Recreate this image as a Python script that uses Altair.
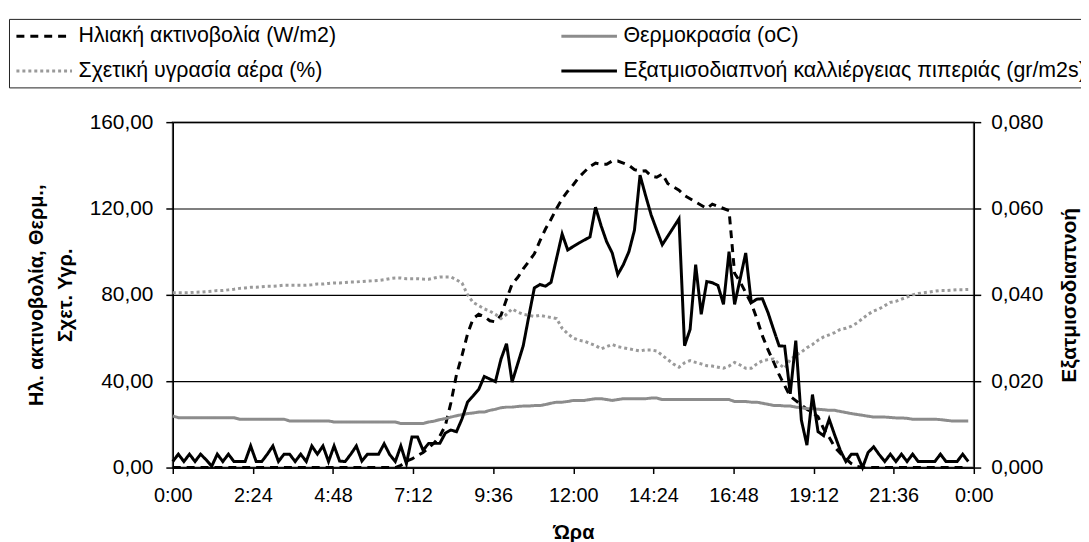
import altair as alt
import pandas as pd

# ---------------- data (10-minute readings, 0:00 .. 23:50) ----------------
minutes = [i * 10 for i in range(144)]

radiation = [
    0, 0, 0, 0, 0, 0,
    0, 0, 0, 0, 0, 0,
    0, 0, 0, 0, 0, 0,
    0, 0, 0, 0, 0, 0,
    0, 0, 0, 0, 0, 0,
    0, 0, 0, 0, 0, 0,
    0, 0, 0, 0, 0, 1,
    3, 4, 5.5, 7, 9, 11.5,
    14.5, 19.5, 30, 43, 52, 62,
    69, 71, 70, 68, 67.5, 70.5,
    78, 85, 88, 92, 95.5, 99,
    105, 110.5, 115, 120, 124.5, 128,
    131, 134.5, 137, 139.5, 141, 140.5,
    140.5, 142, 142, 141, 140, 138,
    137.3, 137.5, 135, 134.5, 136, 131.5,
    130, 128.5, 126, 124.5, 123, 121.5,
    120, 122, 121, 120, 119, 90,
    86, 81, 76, 69, 61, 54.6,
    49, 43, 38, 33, 31, 29,
    27, 25.5, 23.5, 18, 14, 9.5,
    6.6, 4, 1.8, 0.5, 0, 0,
    0, 0, 0, 0, 0, 0,
    0, 0, 0, 0, 0, 0,
    0, 0, 0, 0, 0, 0,
]

temperature = [
    23.9, 23.1, 23.1, 23.1, 23.1, 23.1,
    23.1, 23.1, 23.1, 23.1, 23.1, 23.1,
    22.4, 22.4, 22.4, 22.4, 22.4, 22.4,
    22.4, 22.4, 22.4, 21.6, 21.6, 21.6,
    21.6, 21.6, 21.6, 21.6, 21.6, 21.1,
    21.1, 21.1, 21.1, 21.1, 21.1, 21.1,
    21.1, 21.1, 21.1, 21.1, 21.1, 20.4,
    20.4, 20.4, 20.4, 20.4, 21.1, 21.5,
    22.2, 22.7, 23.4, 24.0, 24.5, 25.0,
    25.3, 25.7, 25.7, 26.5, 27.0, 27.7,
    28.0, 28.0, 28.3, 28.5, 28.5, 28.7,
    28.7, 29.2, 29.8, 30.3, 30.3, 30.6,
    31.1, 31.1, 31.1, 31.5, 31.9, 31.9,
    31.5, 31.1, 31.5, 31.9, 31.9, 31.9,
    31.9, 31.9, 32.2, 32.2, 31.5, 31.5,
    31.5, 31.5, 31.5, 31.5, 31.5, 31.5,
    31.5, 31.5, 31.5, 31.5, 31.5, 30.6,
    30.6, 30.6, 30.3, 30.3, 29.8, 29.3,
    28.8, 28.8, 28.5, 28.5, 28.0, 27.7,
    27.3, 27.3, 27.0, 26.8, 26.5, 26.5,
    26.0, 25.5, 25.0, 24.6, 24.2, 23.8,
    23.4, 23.4, 23.4, 23.2, 23.0, 23.0,
    22.8, 22.4, 22.4, 22.4, 22.4, 22.4,
    22.2, 21.9, 21.6, 21.6, 21.6, 21.6,
]

humidity = [
    81.0, 81.0, 81.0, 81.0, 81.2, 81.3,
    81.5, 81.7, 82.0, 82.0, 82.3, 82.6,
    83.0, 83.2, 83.5, 83.5, 83.8, 84.0,
    84.0, 84.2, 84.5, 84.5, 84.5, 84.5,
    84.5, 84.7, 85.0, 85.0, 85.3, 85.5,
    85.5, 85.7, 86.0, 86.0, 86.2, 86.4,
    86.5, 86.7, 87.0, 87.5, 87.8, 87.8,
    87.5, 87.5, 87.5, 87.3, 87.2, 87.8,
    88.3, 88.3, 88.3, 87.0, 85.5, 80.0,
    76.5, 75.0, 73.5, 72.5, 71.0, 69.0,
    71.0, 73.5, 72.0, 71.0, 70.5, 70.0,
    70.5, 70.0, 69.5, 69.0, 64.5, 62.0,
    60.0, 59.0, 58.5, 57.5, 56.5, 55.0,
    56.0, 57.0, 56.0, 55.5, 55.0, 54.5,
    54.0, 54.5, 54.5, 54.0, 52.0, 50.0,
    48.0, 46.5, 48.5, 49.5, 48.7, 48.0,
    47.2, 47.0, 46.5, 46.0, 47.0, 48.7,
    47.5, 46.0, 46.0, 48.0, 49.5, 50.0,
    50.3, 48.0, 46.0, 50.0, 52.0, 53.5,
    55.5, 57.0, 59.0, 60.5, 61.5, 62.5,
    64.0, 64.5, 65.5, 67.0, 69.0, 71.0,
    72.5, 73.5, 75.0, 76.5, 77.0, 78.0,
    79.0, 80.0, 80.6, 81.0, 81.3, 81.7,
    82.0, 82.0, 82.2, 82.4, 82.4, 82.5,
]

evapotranspiration = [
    .0014, .0031, .0014, .0031, .0014, .0031,
    .0018, .0003, .0031, .0014, .0031, .0014,
    .0014, .0014, .0050, .0014, .0014, .0031,
    .0050, .0014, .0031, .0031, .0014, .0031,
    .0014, .0050, .0031, .0050, .0014, .0050,
    .0015, .0014, .0031, .0050, .0015, .0031,
    .0031, .0031, .0055, .0030, .0014, .0050,
    .0009, .0071, .0071, .0040, .0056, .0056,
    .0056, .0080, .0087, .0083, .0113, .0152,
    .0166, .0181, .0211, .0205, .0199, .0251,
    .0287, .0198, .0240, .0282, .0350, .0416,
    .0424, .0420, .0429, .0485, .0541, .0504,
    .0512, .0520, .0527, .0534, .0603, .0560,
    .0523, .0497, .0447, .0470, .0500, .0550,
    .0677, .0630, .0585, .0550, .0516, .0536,
    .0556, .0576, .0282, .0320, .0470, .0355,
    .0431, .0428, .0422, .0378, .0500, .0378,
    .0437, .0497, .0382, .0390, .0391, .0359,
    .0320, .0282, .0281, .0171, .0294, .0110,
    .0052, .0169, .0083, .0074, .0112, .0075,
    .0040, .0014, .0031, .0031, .0000, .0035,
    .0048, .0030, .0014, .0031, .0014, .0031,
    .0014, .0031, .0014, .0014, .0014, .0014,
    .0031, .0014, .0014, .0014, .0031, .0014,
]

series_names = [
    "Ηλιακή ακτινοβολία (W/m2)",
    "Θερμοκρασία (oC)",
    "Σχετική υγρασία αέρα (%)",
    "Εξατμισοδιαπνοή καλλιέργειας πιπεριάς (gr/m2s)",
]

x_tick_minutes = [0, 144, 288, 432, 576, 720, 864, 1008, 1152, 1296, 1440]
x_tick_labels = ["0:00", "2:24", "4:48", "7:12", "9:36", "12:00",
                 "14:24", "16:48", "19:12", "21:36", "0:00"]
left_ticks = [0, 40, 80, 120, 160]
right_ticks = [0, 0.02, 0.04, 0.06, 0.08]

# ---------------- tables ----------------
left_rows = []
for name, vals in [(series_names[0], radiation),
                   (series_names[1], temperature),
                   (series_names[2], humidity)]:
    for m, v in zip(minutes, vals):
        left_rows.append({"series": name, "minute": m, "value": v})
df_left = pd.DataFrame(left_rows)
df_right = pd.DataFrame({"series": series_names[3], "minute": minutes,
                         "et": evapotranspiration})

FONT = "Arial, 'Liberation Sans', sans-serif"

line_colors = ["#000000", "#8c8c8c", "#9a9a9a", "#000000"]
line_dashes = [[8, 6], [1, 0], [3, 3], [1, 0]]
line_widths = [3, 3, 2, 2.5]

legend = alt.Legend(
    title=None, orient="none", direction="horizontal",
    legendX=-165, legendY=-104, columns=2,
    columnPadding=220, rowPadding=13, padding=6, strokeColor="#222222",
    symbolType="M-2.8,0H2.8", symbolSize=400, symbolOffset=18,
    labelFont=FONT, labelFontSize=21.5, labelColor="#000000",
    labelLimit=800, labelOffset=23,
)

color = alt.Color("series:N", scale=alt.Scale(domain=series_names, range=line_colors), legend=legend)
dash = alt.StrokeDash("series:N", scale=alt.Scale(domain=series_names, range=line_dashes), legend=legend)
width = alt.StrokeWidth("series:N", scale=alt.Scale(domain=series_names, range=line_widths), legend=legend)

tick_expr = "[" + ",".join("'%s'" % s for s in x_tick_labels) + "][indexof([" + \
    ",".join(str(v) for v in x_tick_minutes) + "], datum.value)]"

x_enc = alt.X(
    "minute:Q",
    scale=alt.Scale(domain=[0, 1440], nice=False, zero=False),
    axis=alt.Axis(values=x_tick_minutes, labelExpr=tick_expr, title="Ώρα",
                  grid=False, tickSize=6, labelFontSize=20, labelPadding=12,
                  labelFlush=False, labelOverlap=False,
                  titleFontSize=20, titleFontWeight="bold", titlePadding=17),
)

left = alt.Chart(df_left).mark_line(strokeCap="butt", strokeJoin="miter").encode(
    x=x_enc,
    y=alt.Y("value:Q", scale=alt.Scale(domain=[0, 160], nice=False),
            axis=alt.Axis(values=left_ticks,
                          labelExpr="replace(format(datum.value, '.2f'), '.', ',')",
                          title=["Ηλ. ακτινοβολία, Θερμ.,", "Σχετ. Υγρ."],
                          grid=True, gridColor="#000000", gridWidth=1.2,
                          tickSize=7, labelFontSize=21, labelPadding=13,
                          titleFontSize=20, titleFontWeight="bold",
                          titlePadding=14, titleLineHeight=29)),
    color=color, strokeDash=dash, strokeWidth=width,
)

right = alt.Chart(df_right).mark_line(strokeCap="butt", strokeJoin="miter").encode(
    x=x_enc,
    y=alt.Y("et:Q", scale=alt.Scale(domain=[0, 0.08], nice=False),
            axis=alt.Axis(orient="right", values=right_ticks,
                          labelExpr="replace(format(datum.value, '.3f'), '.', ',')",
                          title="Εξατμισοδιαπνοή", titleAngle=270, titleBaseline="top",
                          grid=False, tickSize=7, labelFontSize=21, labelPadding=10,
                          titleFontSize=21, titleFontWeight="bold", titlePadding=16)),
    color=color, strokeDash=dash, strokeWidth=width,
)

chart = alt.layer(left, right).resolve_scale(y="independent").properties(
    width=807, height=348,
    autosize=alt.AutoSizeParams(type="none"),
    padding={"left": 166, "top": 113, "right": 108, "bottom": 73},
    background="white",
).configure_view(
    stroke="#808080", strokeWidth=2,
).configure_axis(
    labelFont=FONT, titleFont=FONT, labelColor="#000000", titleColor="#000000",
    domainColor="#000000", tickColor="#000000", domainWidth=1.5, tickWidth=1.5,
)

chart.save("out.html", embed_options={"renderer": "svg", "actions": False})
